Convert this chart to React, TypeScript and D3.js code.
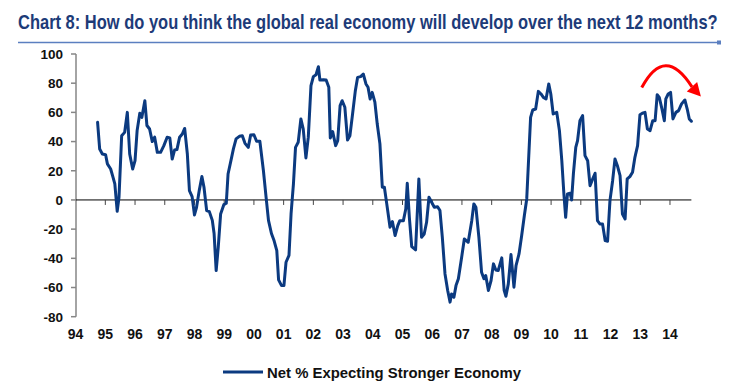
import { useLayoutEffect, useRef, useState } from "react";
import * as d3 from "d3";

// Net % of respondents expecting a stronger global economy
const years = [
  1994.74, 1994.81, 1994.9, 1995.01, 1995.07, 1995.18, 1995.26, 1995.32, 1995.4, 1995.46,
  1995.55, 1995.65, 1995.74, 1995.82, 1995.92, 1996.0, 1996.07, 1996.16, 1996.23, 1996.33,
  1996.4, 1996.49, 1996.58, 1996.66, 1996.75, 1996.86, 1996.97, 1997.08, 1997.17, 1997.25,
  1997.33, 1997.41, 1997.5, 1997.59, 1997.67, 1997.76, 1997.83, 1997.92, 1998.0, 1998.07,
  1998.16, 1998.25, 1998.32, 1998.41, 1998.5, 1998.6, 1998.66, 1998.73, 1998.8, 1998.88,
  1998.99, 1999.07, 1999.13, 1999.25, 1999.31, 1999.4, 1999.51, 1999.61, 1999.7, 1999.81,
  1999.89, 2000.0, 2000.09, 2000.2, 2000.32, 2000.41, 2000.49, 2000.59, 2000.68, 2000.77,
  2000.83, 2000.93, 2001.01, 2001.08, 2001.18, 2001.25, 2001.33, 2001.4, 2001.49, 2001.58,
  2001.66, 2001.75, 2001.83, 2001.92, 2002.0, 2002.09, 2002.17, 2002.22, 2002.34, 2002.43,
  2002.52, 2002.57, 2002.65, 2002.75, 2002.82, 2002.9, 2002.97, 2003.06, 2003.15, 2003.23,
  2003.32, 2003.41, 2003.49, 2003.59, 2003.68, 2003.77, 2003.84, 2003.91, 2003.98, 2004.07,
  2004.15, 2004.24, 2004.32, 2004.39, 2004.47, 2004.58, 2004.66, 2004.75, 2004.84, 2004.91,
  2005.03, 2005.11, 2005.16, 2005.23, 2005.31, 2005.44, 2005.55, 2005.64, 2005.73, 2005.81,
  2005.89, 2005.98, 2006.07, 2006.18, 2006.26, 2006.34, 2006.43, 2006.52, 2006.6, 2006.65,
  2006.73, 2006.8, 2006.88, 2006.99, 2007.08, 2007.21, 2007.33, 2007.4, 2007.47, 2007.57,
  2007.66, 2007.74, 2007.8, 2007.89, 2007.98, 2008.06, 2008.14, 2008.22, 2008.34, 2008.42,
  2008.48, 2008.56, 2008.65, 2008.75, 2008.82, 2008.92, 2009.01, 2009.1, 2009.18, 2009.23,
  2009.31, 2009.38, 2009.48, 2009.57, 2009.66, 2009.74, 2009.83, 2009.92, 2009.99, 2010.07,
  2010.19, 2010.28, 2010.36, 2010.43, 2010.49, 2010.55, 2010.64, 2010.69, 2010.75, 2010.83,
  2010.89, 2010.97, 2011.06, 2011.14, 2011.23, 2011.31, 2011.4, 2011.48, 2011.56, 2011.64,
  2011.73, 2011.82, 2011.9, 2011.98, 2012.07, 2012.15, 2012.23, 2012.32, 2012.4, 2012.49,
  2012.56, 2012.65, 2012.74, 2012.82, 2012.91, 2012.99, 2013.07, 2013.16, 2013.24, 2013.33,
  2013.42, 2013.5, 2013.57, 2013.64, 2013.73, 2013.81, 2013.86, 2013.94, 2014.02, 2014.1,
  2014.2, 2014.29, 2014.39, 2014.5, 2014.58, 2014.65, 2014.72,
];

const values = [
  53.2, 34.9, 31.5, 31, 24.7, 21.2, 15.5, 11, -7.8, 1.8,
  44, 46.3, 60, 31.5, 21.2, 27, 47.5, 59.4, 56.6, 68,
  51, 48.6, 40, 43, 32.6, 32.6, 37.2, 43, 42.5, 28,
  34.2, 34.5, 43, 45.2, 49, 31.5, 6.4, 2.3, -10.3, -5,
  6.4, 16, 8.7, -7.3, -8, -14, -23, -48.4, -32.4, -9.6,
  -3.2, -2.3, 17.8, 29.2, 35, 41.8, 43.6, 44, 38.8, 36,
  44.5, 44.7, 40.2, 40.2, 20, 1.8, -14, -23, -28, -34.7,
  -54.8, -58.7, -58.7, -42.7, -38, -9.6, 11, 36, 39.5, 55.5,
  48.6, 28.8, 43, 78.3, 84.5, 85.8, 91.3, 82.2, 82.4, 82.2,
  77.2, 42.5, 46.8, 37.2, 40.6, 64.6, 68, 63.5, 41, 44,
  59, 74.4, 84, 84.5, 86.3, 79.5, 77.2, 69.2, 73.7, 67,
  52, 38.4, 8.7, 8.7, -2.7, -18.7, -14.8, -24.4, -17.6, -14.2,
  -14.2, -6.2, 11.4, -11.9, -32, -34.2, 14.4, -25.6, -23.3, -15.3,
  1.8, -1.6, -5, -4.6, -7.3, -25.6, -50.7, -62, -70, -64.4,
  -66.7, -58.7, -54, -39.3, -26.7, -29, -14.2, -2.7, -5, -25.6,
  -49.5, -54, -51.8, -62, -55.2, -43.8, -48, -48.4, -39.7, -62,
  -66, -57.5, -37.4, -59.8, -45, -37, -24.4, -10.7, 0.7, 22.4,
  56.6, 61.6, 62.3, 74.4, 72.6, 70.3, 69.2, 79.5, 72.6, 58.9,
  60, 47.5, 26.9, 4.1, -11.9, 4.1, 4.6, 0, 17.8, 36,
  40.6, 54.3, 57.8, 30.4, 26.9, 9.8, 14.4, 18.3, -14.2, -16.4,
  -16.4, -27.9, -28.3, -0.5, 13.2, 28.1, 23.5, 16.7, -9.6, -13,
  14.4, 16, 19, 29.2, 37.2, 58.4, 59.4, 60, 48.6, 47.5,
  54.3, 54.3, 72.1, 70.3, 62.3, 54.3, 69.2, 72.6, 73.7, 55.5,
  60, 61.2, 65.8, 68.5, 62.3, 55.5, 53.9,
];

const yTicks = [-80, -60, -40, -20, 0, 20, 40, 60, 80, 100];
const tickYears = d3.range(1994, 2015);
const yearLabels = tickYears.map((yr) => String(yr).slice(2));

const title = "Chart 8: How do you think the global real economy will develop over the next 12 months?";
const seriesName = "Net % Expecting Stronger Economy";

// red "rolling over" annotation, in data coordinates
const arrowStart: [number, number] = [2013.05, 77];
const arrowPeak: [number, number] = [2013.86, 92];
const arrowEnd: [number, number] = [2014.74, 77.5];
const arrowTip: [number, number] = [2015.04, 70.8];

const BLUE = "#0b3a80";
const FONT = "'Liberation Sans', Arial, sans-serif";
const TITLE_WIDTH = 700;

export default function App() {
  const width = 756;
  const height = 386;

  // squeeze the title horizontally to mimic a narrow font
  const titleRef = useRef<SVGTextElement>(null);
  const [titleScale, setTitleScale] = useState(0.7);
  useLayoutEffect(() => {
    const el = titleRef.current;
    if (!el) return;
    const w = el.getComputedTextLength();
    if (w > 0) setTitleScale(TITLE_WIDTH / w);
  }, []);

  const x = d3.scaleLinear().domain([1994, 2015]).range([75.6, 699.7]);
  const y = d3.scaleLinear().domain([-80, 100]).range([316.7, 54]);

  const points = years.map((yr, i) => [yr, values[i]] as [number, number]);
  const line = d3
    .line<[number, number]>()
    .x((d) => x(d[0]))
    .y((d) => y(d[1]));

  const y0 = y(0);
  const xEnd = x(years[years.length - 1]);

  // arrow arc as a quadratic through the peak
  const p0 = [x(arrowStart[0]), y(arrowStart[1])];
  const pm = [x(arrowPeak[0]), y(arrowPeak[1])];
  const p2 = [x(arrowEnd[0]), y(arrowEnd[1])];
  const ctrl = [(4 * pm[0] - p0[0] - p2[0]) / 2, (4 * pm[1] - p0[1] - p2[1]) / 2];
  const arc = d3.path();
  arc.moveTo(p0[0], p0[1]);
  arc.quadraticCurveTo(ctrl[0], ctrl[1], p2[0], p2[1]);

  const tip = [x(arrowTip[0]), y(arrowTip[1])];
  const dx = tip[0] - p2[0];
  const dy = tip[1] - p2[1];
  const len = Math.hypot(dx, dy);
  const nx = -dy / len;
  const ny = dx / len;
  const half = 7;
  const head = `M${tip[0]},${tip[1]}L${p2[0] + nx * half},${p2[1] + ny * half}L${p2[0] - nx * half},${p2[1] - ny * half}Z`;

  return (
    <div style={{ position: "absolute", left: 0, top: 0 }}>
      <svg width={width} height={height} style={{ display: "block", background: "#fff" }}>
        {/* Title */}
        <g transform={`translate(18,29) scale(${titleScale},1)`}>
          <text
            ref={titleRef}
            x={0}
            y={0}
            fontFamily="'Liberation Sans Narrow', 'Arial Narrow', 'Liberation Sans', sans-serif"
            fontSize={19.5}
            fontWeight="bold"
            fill="#1d3b78"
          >
            {title}
          </text>
        </g>
        <line x1={18} x2={719} y1={42.5} y2={42.5} stroke="#5b7fc0" strokeWidth={1.5} />
        <rect x={717} y={40.5} width={4} height={4} fill="#5b7fc0" />

        {/* Y axis */}
        <line x1={76} x2={76} y1={y(100)} y2={y(-80)} stroke="#868686" strokeWidth={1.5} />
        {yTicks.map((t) => (
          <g key={t}>
            <line x1={71} x2={76} y1={y(t)} y2={y(t)} stroke="#868686" strokeWidth={1.5} />
            <text
              x={63}
              y={y(t)}
              dy="0.36em"
              textAnchor="end"
              fontFamily={FONT}
              fontWeight="bold"
              fontSize={13.5}
              fill="#111"
            >
              {t}
            </text>
          </g>
        ))}

        {/* Zero line with year ticks */}
        <line x1={76} x2={xEnd} y1={y0} y2={y0} stroke="#000" strokeWidth={1} />
        {tickYears.slice(1).map((yr) => (
          <line key={yr} x1={x(yr)} x2={x(yr)} y1={y0} y2={y0 + 5} stroke="#444" strokeWidth={1} />
        ))}
        {tickYears.map((yr, i) => (
          <text
            key={yr}
            x={x(yr)}
            y={339}
            textAnchor="middle"
            fontFamily={FONT}
            fontWeight="bold"
            fontSize={14}
            fill="#111"
          >
            {yearLabels[i]}
          </text>
        ))}

        {/* Series */}
        <path
          d={line(points) ?? ""}
          fill="none"
          stroke={BLUE}
          strokeWidth={3}
          strokeLinejoin="round"
          strokeLinecap="round"
        />

        {/* Annotation arrow */}
        <path d={arc.toString()} fill="none" stroke="#ff0000" strokeWidth={3} />
        <path d={head} fill="#ff0000" />

        {/* Legend */}
        <line x1={223} x2={263} y1={372} y2={372} stroke={BLUE} strokeWidth={3} />
        <text
          x={267}
          y={377.5}
          fontFamily={FONT}
          fontWeight="bold"
          fontSize={15}
          fill="#111"
          textLength={254}
          lengthAdjust="spacingAndGlyphs"
        >
          {seriesName}
        </text>
      </svg>
    </div>
  );
}
